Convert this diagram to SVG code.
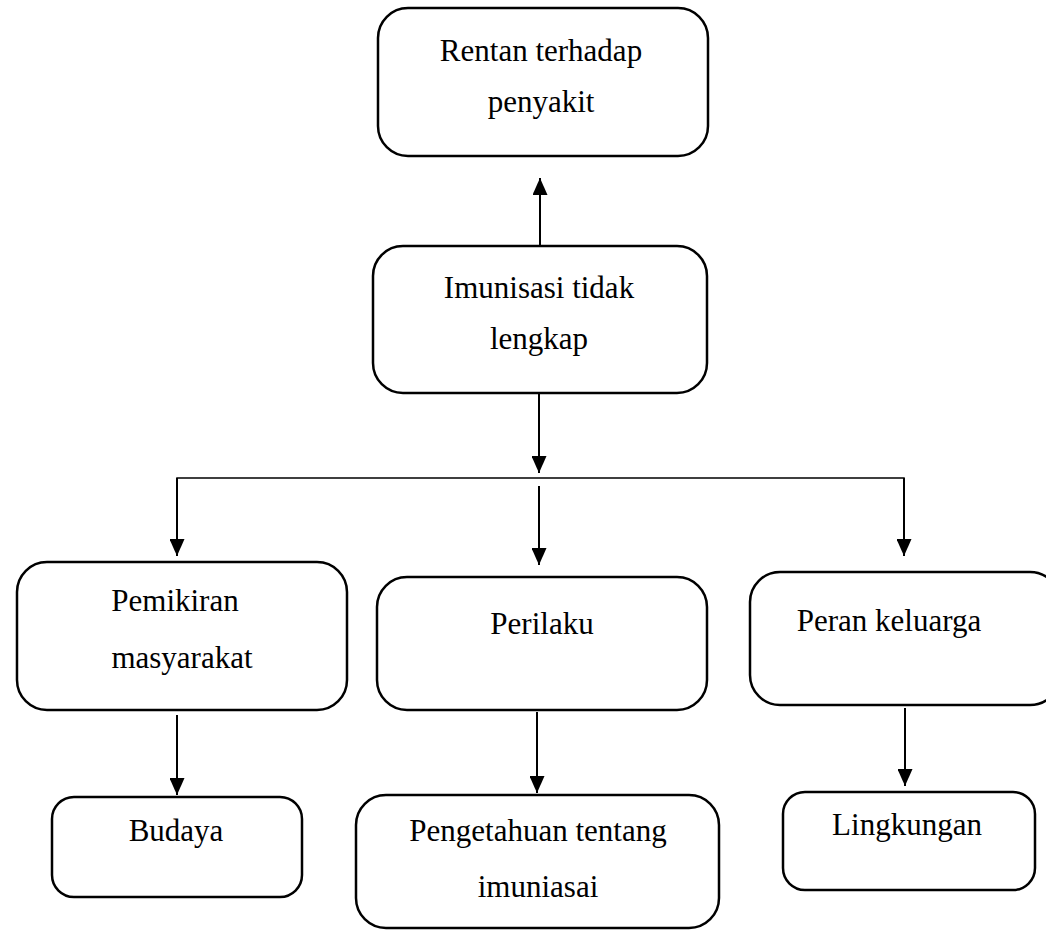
<svg xmlns="http://www.w3.org/2000/svg" width="1046" height="930" viewBox="0 0 1046 930">
<style>
.box{fill:#fff;stroke:#000;stroke-width:2.5}
.t{font-family:"Liberation Serif","Times New Roman",serif;font-size:31px;fill:#000;text-anchor:middle}
.c{stroke:#000;stroke-width:2;fill:none}
</style>
<defs>
<marker id="a" viewBox="0 0 17 15" refX="17" refY="7.5" markerWidth="17" markerHeight="15" markerUnits="userSpaceOnUse" orient="auto">
<path d="M0,0 L17,7.5 L0,15 z" fill="#000"/>
</marker>
</defs>
<rect width="1046" height="930" fill="#fff"/>
<g id="connectors">
<line class="c" x1="540" y1="245" x2="540" y2="178" marker-end="url(#a)"/>
<line class="c" x1="539" y1="393" x2="539" y2="473" marker-end="url(#a)"/>
<polyline class="c" style="stroke-width:1.5" points="177,540 177,478 904,478 904,540"/>
<line class="c" x1="177" y1="478" x2="177" y2="556" marker-end="url(#a)"/>
<line class="c" x1="904" y1="478" x2="904" y2="556" marker-end="url(#a)"/>
<line class="c" x1="539" y1="486" x2="539" y2="565" marker-end="url(#a)"/>
<line class="c" x1="177" y1="715" x2="177" y2="795" marker-end="url(#a)"/>
<line class="c" x1="537" y1="712" x2="537" y2="793" marker-end="url(#a)"/>
<line class="c" x1="905" y1="708" x2="905" y2="786" marker-end="url(#a)"/>
</g>
<g id="n1">
<rect class="box" x="378" y="8" width="330" height="148" rx="30"/>
<text class="t" x="541" y="61">Rentan terhadap</text>
<text class="t" x="541" y="112">penyakit</text>
</g>
<g id="n2">
<rect class="box" x="373" y="246" width="334" height="147" rx="30"/>
<text class="t" x="539" y="298">Imunisasi tidak</text>
<text class="t" x="539" y="349">lengkap</text>
</g>
<g id="n3">
<rect class="box" x="17" y="562" width="330" height="148" rx="30"/>
<text class="t" x="175" y="611">Pemikiran</text>
<text class="t" x="182" y="668">masyarakat</text>
</g>
<g id="n4">
<rect class="box" x="377" y="577" width="330" height="133" rx="30"/>
<text class="t" x="542" y="634">Perilaku</text>
</g>
<g id="n5">
<rect class="box" x="750" y="572" width="310" height="133" rx="30"/>
<text class="t" x="889" y="631">Peran keluarga</text>
</g>
<g id="n6">
<rect class="box" x="52" y="797" width="250" height="100" rx="22"/>
<text class="t" x="176" y="841">Budaya</text>
</g>
<g id="n7">
<rect class="box" x="356" y="795" width="363" height="133" rx="30"/>
<text class="t" x="538" y="841">Pengetahuan tentang</text>
<text class="t" x="538" y="897">imuniasai</text>
</g>
<g id="n8">
<rect class="box" x="783" y="792" width="252" height="98" rx="22"/>
<text class="t" x="907" y="835">Lingkungan</text>
</g>
</svg>
